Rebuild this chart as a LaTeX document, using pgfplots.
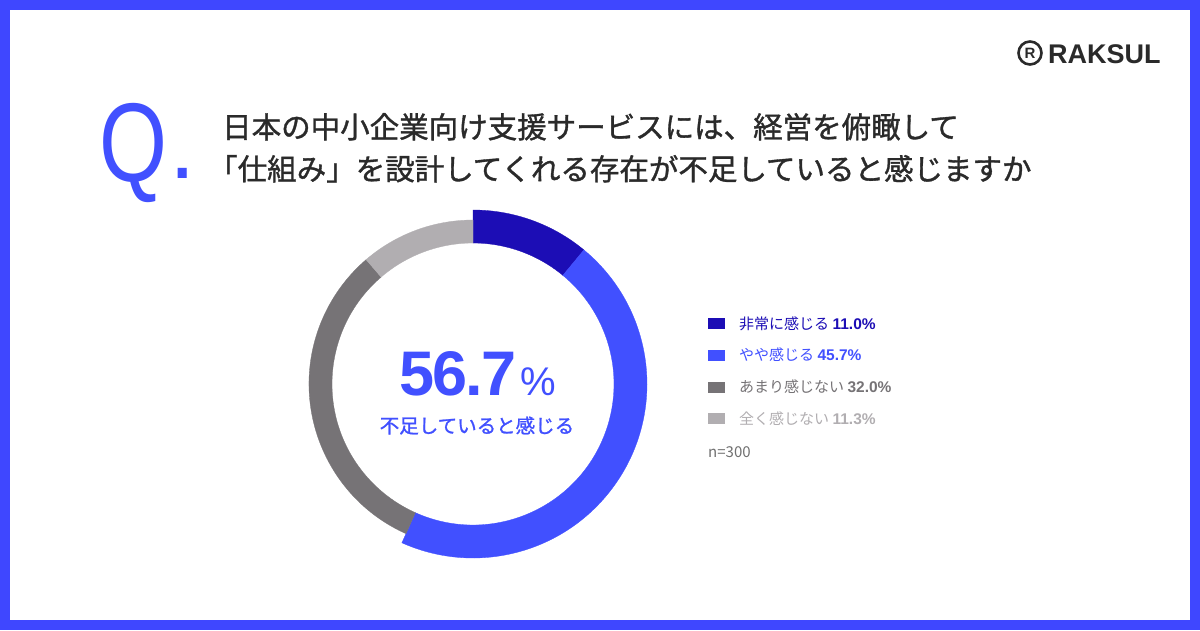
\documentclass[border=0pt]{standalone}
\usepackage{pgfplots}
\pgfplotsset{compat=1.18}
\usepackage{pgfplotstable}
\usepackage{fontspec}
\setmainfont{Noto Sans CJK JP}
\newfontfamily\jp{Noto Sans CJK JP}
\newfontfamily\jpm{Noto Sans CJK JP}[FakeBold=1.2]
\newfontfamily\num{Liberation Sans}
\newfontfamily\numtight{Liberation Sans}[LetterSpace=-3]

\definecolor{frame}{HTML}{3F47FF}
\definecolor{cA}{HTML}{1C0DB5}
\definecolor{cB}{HTML}{4150FF}
\definecolor{cC}{HTML}{767376}
\definecolor{cD}{HTML}{B1AEB1}
\definecolor{ttl}{HTML}{2A2A2A}
\definecolor{ngray}{HTML}{707070}

% share (%) and outer radius (px) of each ring segment, clockwise from 12 o'clock
\pgfplotstableread{
share rout
11.0 174
45.7 174
32.0 164
11.3 164
}\donut

\def\cum{0}
\pgfplotsforeachungrouped \i in {0,...,3}{%
  \pgfplotstablegetelem{\i}{share}\of\donut
  \let\curval\pgfplotsretval
  \pgfmathsetmacro\sa{90-3.6*\cum}%
  \pgfmathsetmacro\cum{\cum+\curval}%
  \pgfmathsetmacro\sb{90-3.6*\cum}%
  \pgfplotstablegetelem{\i}{rout}\of\donut
  \expandafter\xdef\csname segA\i\endcsname{\sa}%
  \expandafter\xdef\csname segB\i\endcsname{\sb}%
  \expandafter\xdef\csname segR\i\endcsname{\pgfplotsretval}%
}

\newcommand\seg[2]{%
  \edef\temp{\noexpand\fill[#2, draw=#2, line width=0.3pt]
    ([shift={(\csname segA#1\endcsname:\csname segR#1\endcsname pt)}]axis cs:473,384)
    arc[start angle=\csname segA#1\endcsname, end angle=\csname segB#1\endcsname, radius=\csname segR#1\endcsname pt]
    -- ([shift={(\csname segB#1\endcsname:141pt)}]axis cs:473,384)
    arc[start angle=\csname segB#1\endcsname, end angle=\csname segA#1\endcsname, radius=141pt] -- cycle;}%
  \temp}

\begin{document}
\begin{tikzpicture}
\fill[frame] (0,0) rectangle (1200pt,630pt);
\fill[white] (10pt,10pt) rectangle (1190pt,620pt);
\begin{axis}[
  at={(0pt,630pt)}, anchor=north west,
  x=1pt, y=1pt, y dir=reverse,
  xmin=0, xmax=1200, ymin=0, ymax=630,
  hide axis, clip=false]

\seg{0}{cA}
\seg{1}{cB}
\seg{2}{cC}
\seg{3}{cD}

% Q.
\node[anchor=base west, inner sep=0, xscale=0.78, text=cB, font=\num\fontsize{112}{112}\selectfont] at (axis cs:99,181) {Q};
\node[anchor=base west, inner sep=0, text=cB, font=\num\fontsize{95}{95}\selectfont] at (axis cs:169,178) {.};

% title
\node[anchor=base west, inner sep=0, text=ttl, font=\jpm\fontsize{29.5}{29.5}\selectfont] at (axis cs:222,138) {日本の中小企業向け支援サービスには、経営を俯瞰して};
\node[anchor=base west, inner sep=0, text=ttl, font=\jpm\fontsize{29.5}{29.5}\selectfont] at (axis cs:208,180) {「仕組み」を設計してくれる存在が不足していると感じますか};

% logo
\draw[ttl, line width=2.6pt] (axis cs:1030,53) circle[radius=11.5pt];
\node[inner sep=0, text=ttl, font=\num\bfseries\fontsize{15}{15}\selectfont] at (axis cs:1030,53) {R};
\node[anchor=base west, inner sep=0, text=ttl, font=\num\bfseries\fontsize{27}{27}\selectfont] at (axis cs:1048,63) {RAKSUL};

% centre
\node[anchor=base west, inner sep=0, text=cB, font=\numtight\bfseries\fontsize{63}{63}\selectfont] at (axis cs:399,395) {56.7};
\node[anchor=base west, inner sep=0, text=cB, font=\num\fontsize{40}{40}\selectfont] at (axis cs:520,395) {\%};
\node[anchor=base, inner sep=0, text=cB, font=\jpm\fontsize{19.5}{20}\selectfont] at (axis cs:477,433) {不足していると感じる};

% legend
\fill[cA] (axis cs:708,318) rectangle (axis cs:725,329);
\fill[cB] (axis cs:708,349.5) rectangle (axis cs:725,360.5);
\fill[cC] (axis cs:708,381.5) rectangle (axis cs:725,392.5);
\fill[cD] (axis cs:708,413) rectangle (axis cs:725,424);
\node[anchor=base west, inner sep=0, text=cA, font=\jp\fontsize{15}{15}\selectfont] at (axis cs:739,329) {非常に感じる {\num\bfseries\fontsize{15.5}{15}\selectfont 11.0\%}};
\node[anchor=base west, inner sep=0, text=cB, font=\jp\fontsize{15}{15}\selectfont] at (axis cs:739,360.5) {やや感じる {\num\bfseries\fontsize{15.5}{15}\selectfont 45.7\%}};
\node[anchor=base west, inner sep=0, text=cC, font=\jp\fontsize{15}{15}\selectfont] at (axis cs:739,392.5) {あまり感じない {\num\bfseries\fontsize{15.5}{15}\selectfont 32.0\%}};
\node[anchor=base west, inner sep=0, text=cD, font=\jp\fontsize{15}{15}\selectfont] at (axis cs:739,424) {全く感じない {\num\bfseries\fontsize{15.5}{15}\selectfont 11.3\%}};
\node[anchor=base west, inner sep=0, text=ngray, font=\jp\fontsize{15}{15}\selectfont] at (axis cs:708,457) {n=300};
\end{axis}
\end{tikzpicture}
\end{document}
